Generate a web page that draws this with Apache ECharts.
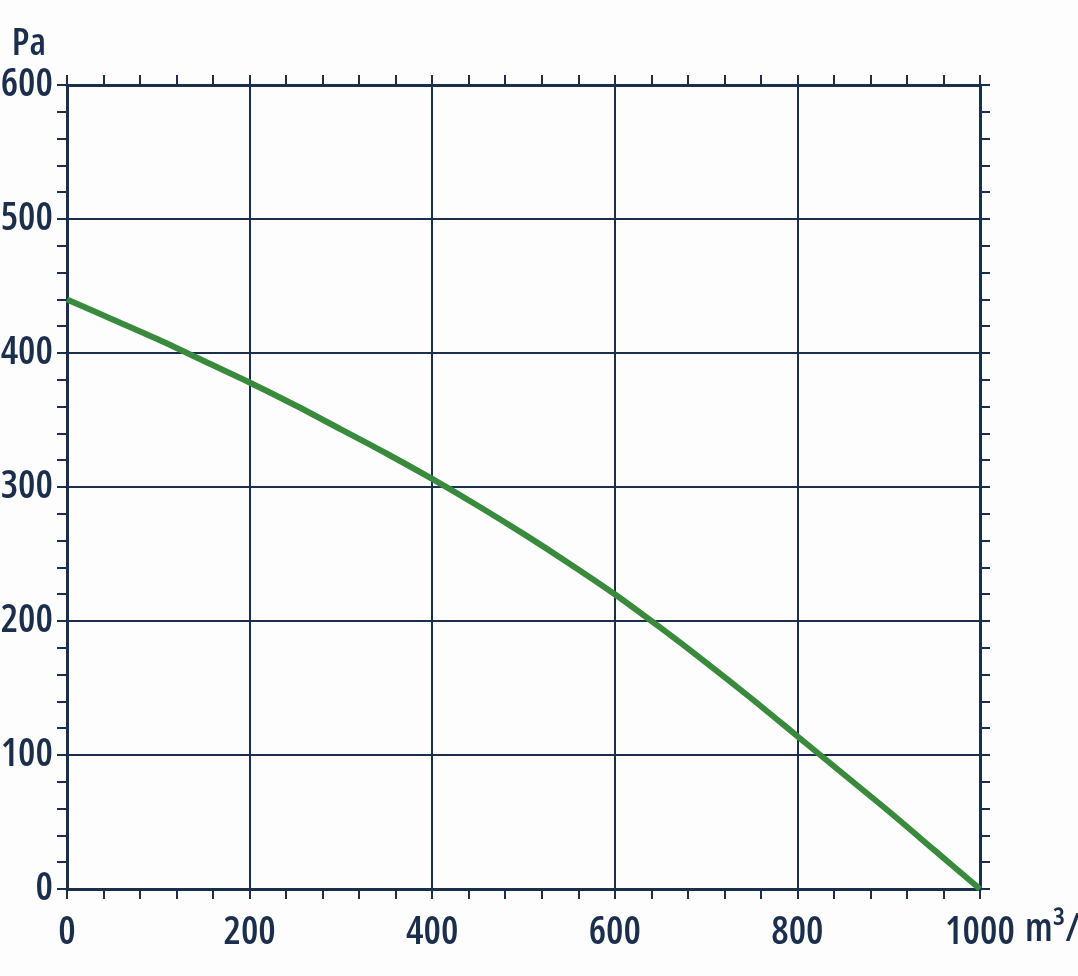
<!DOCTYPE html>
<html>
<head>
<meta charset="utf-8">
<script src="https://cdn.jsdelivr.net/npm/echarts@6/dist/echarts.min.js"></script>
<style>
html,body{margin:0;padding:0;background:#fdfdfd;}
#c{width:1078px;height:976px;}
</style>
</head>
<body>
<div id="c"></div>
<script>
const flow = [0, 50, 100, 150, 200, 250, 300, 350, 400, 450, 500, 550, 600, 650, 700, 750, 800, 850, 900, 950, 1000];
const pressure = [440, 425, 410, 394, 378, 361, 343, 325, 306, 286, 265, 243, 220, 195, 169, 142, 114, 86, 58, 29, 0];
const xName = 'm³/h';
const yName = 'Pa';

const NAVY = '#1b2f4c';
const FONT = "'Open Sans'";
const WEIGHT = '600 condensed';
const FS = 39;

const chart = echarts.init(document.getElementById('c'));

function xAx(pos, main) {
  return {
    type: 'value', position: pos, min: 0, max: 1000, interval: 200,
    name: main ? '\n' + xName : '', nameLocation: 'end', nameGap: 45,
    nameTextStyle: { color: NAVY, fontFamily: FONT, fontWeight: WEIGHT, fontSize: FS, lineHeight: 82, align: 'left', verticalAlign: 'middle' },
    axisLine: { show: true, onZero: false, lineStyle: { color: NAVY, width: 3 } },
    axisTick: { show: true, inside: false, length: 10, lineStyle: { color: NAVY, width: 2 } },
    minorTick: { show: true, splitNumber: 5, length: 10, lineStyle: { color: NAVY, width: 2 } },
    axisLabel: { show: main, margin: 24, color: NAVY, fontFamily: FONT, fontWeight: WEIGHT, fontSize: FS, formatter: v => String(v) },
    splitLine: { show: main, lineStyle: { color: NAVY, width: 2 } }
  };
}
function yAx(pos, main) {
  return {
    type: 'value', position: pos, min: 0, max: 600, interval: 100,
    name: main ? yName : '', nameLocation: 'end', nameGap: 22,
    nameTextStyle: { color: NAVY, fontFamily: FONT, fontWeight: WEIGHT, fontSize: 38, align: 'right', padding: [0, 21, 0, 0] },
    axisLine: { show: true, onZero: false, lineStyle: { color: NAVY, width: 3 } },
    axisTick: { show: true, inside: false, length: 10, lineStyle: { color: NAVY, width: 2 } },
    minorTick: { show: true, splitNumber: 5, length: 10, lineStyle: { color: NAVY, width: 2 } },
    axisLabel: { show: main, margin: 14, color: NAVY, fontFamily: FONT, fontWeight: WEIGHT, fontSize: FS, formatter: v => String(v) },
    splitLine: { show: main, lineStyle: { color: NAVY, width: 2 } }
  };
}

chart.setOption({
  backgroundColor: '#fdfdfd',
  animation: false,
  grid: { left: 67, right: 98, top: 85, bottom: 87, containLabel: false, outerBoundsMode: 'none' },
  xAxis: [xAx('bottom', true), xAx('top', false)],
  yAxis: [yAx('left', true), yAx('right', false)],
  series: [{
    type: 'line',
    xAxisIndex: 0, yAxisIndex: 0,
    data: flow.map((f, i) => [f, pressure[i]]),
    smooth: 0.3,
    showSymbol: false,
    lineStyle: { color: '#3a8a3e', width: 6 },
    z: 5
  }]
});
</script>
</body>
</html>
